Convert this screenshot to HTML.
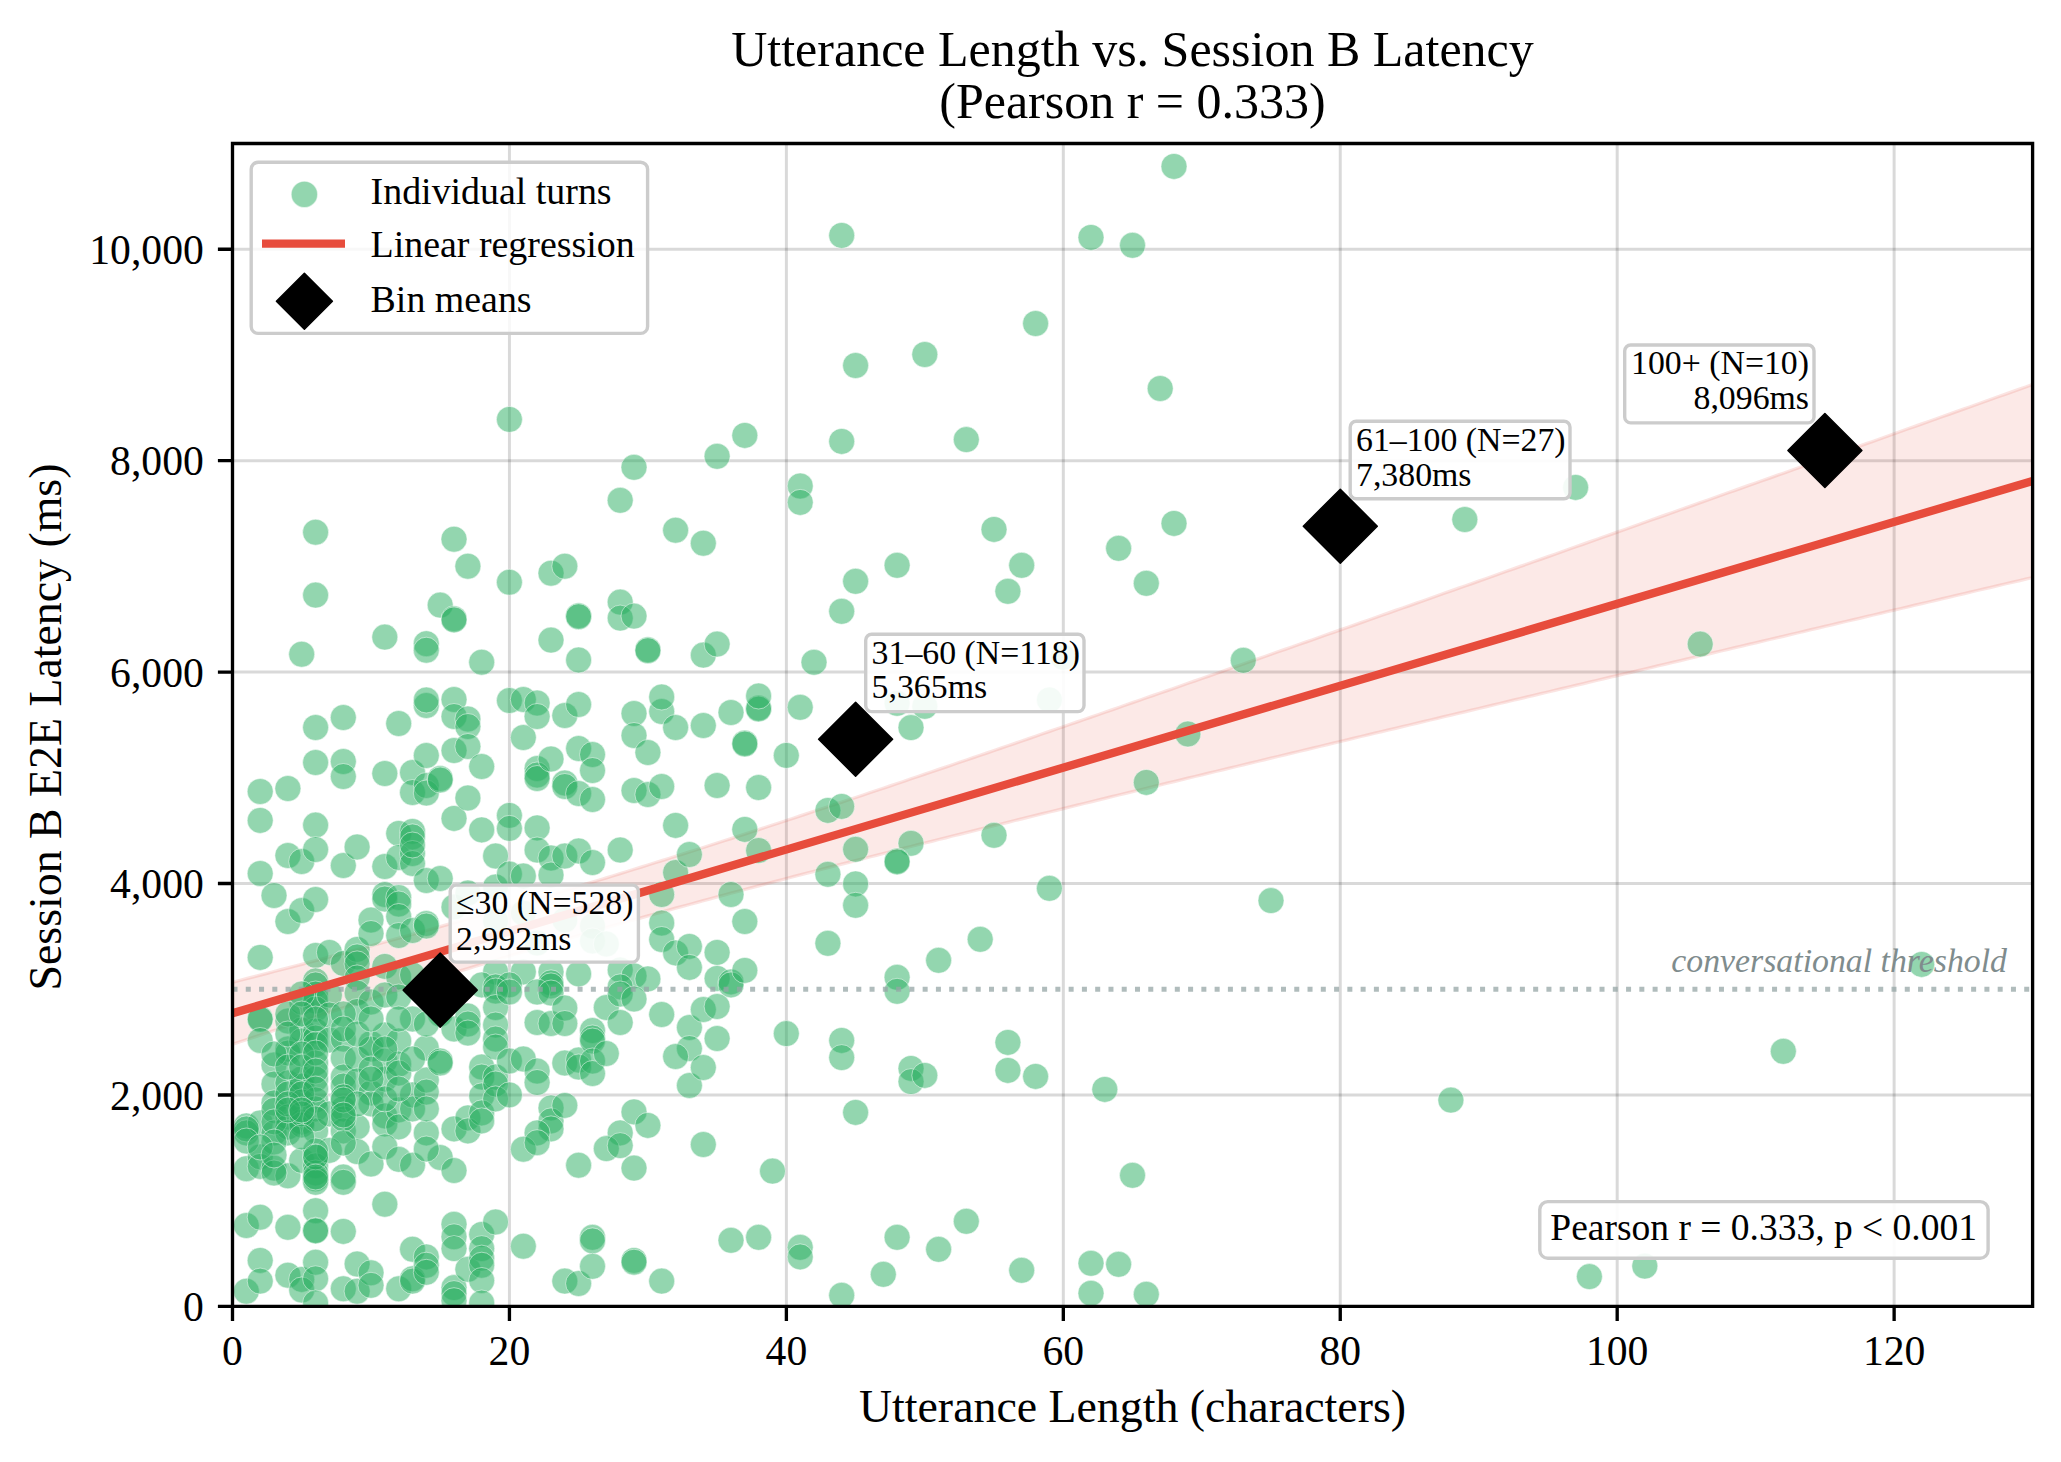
<!DOCTYPE html><html><head><meta charset="utf-8"><style>html,body{margin:0;padding:0;background:#fff;overflow:hidden;}svg{display:block;}text{font-family:"Liberation Serif",serif;}</style></head><body>
<svg width="2061" height="1462" viewBox="0 0 2061 1462">
<rect x="0" y="0" width="2061" height="1462" fill="#fff"/>
<defs><clipPath id="ax"><rect x="232.5" y="143.5" width="1800.1" height="1162.9"/></clipPath></defs>
<path d="M232.50 143.5V1306.4" stroke="#000" stroke-opacity="0.15" stroke-width="3" fill="none"/>
<path d="M509.44 143.5V1306.4" stroke="#000" stroke-opacity="0.15" stroke-width="3" fill="none"/>
<path d="M786.38 143.5V1306.4" stroke="#000" stroke-opacity="0.15" stroke-width="3" fill="none"/>
<path d="M1063.32 143.5V1306.4" stroke="#000" stroke-opacity="0.15" stroke-width="3" fill="none"/>
<path d="M1340.25 143.5V1306.4" stroke="#000" stroke-opacity="0.15" stroke-width="3" fill="none"/>
<path d="M1617.19 143.5V1306.4" stroke="#000" stroke-opacity="0.15" stroke-width="3" fill="none"/>
<path d="M1894.13 143.5V1306.4" stroke="#000" stroke-opacity="0.15" stroke-width="3" fill="none"/>
<path d="M232.5 1306.40H2032.6" stroke="#000" stroke-opacity="0.15" stroke-width="3" fill="none"/>
<path d="M232.5 1094.96H2032.6" stroke="#000" stroke-opacity="0.15" stroke-width="3" fill="none"/>
<path d="M232.5 883.53H2032.6" stroke="#000" stroke-opacity="0.15" stroke-width="3" fill="none"/>
<path d="M232.5 672.09H2032.6" stroke="#000" stroke-opacity="0.15" stroke-width="3" fill="none"/>
<path d="M232.5 460.65H2032.6" stroke="#000" stroke-opacity="0.15" stroke-width="3" fill="none"/>
<path d="M232.5 249.22H2032.6" stroke="#000" stroke-opacity="0.15" stroke-width="3" fill="none"/>
<g clip-path="url(#ax)">
<path d="M232.5 982.3 L239.4 980.5 L246.3 978.7 L253.3 976.9 L260.2 975.1 L267.1 973.3 L274.0 971.5 L281.0 969.7 L287.9 967.9 L294.8 966.1 L301.7 964.3 L308.7 962.4 L315.6 960.6 L322.5 958.8 L329.4 956.9 L336.4 955.1 L343.3 953.2 L350.2 951.4 L357.1 949.5 L364.0 947.6 L371.0 945.8 L377.9 943.9 L384.8 942.0 L391.7 940.1 L398.7 938.2 L405.6 936.3 L412.5 934.4 L419.4 932.4 L426.4 930.5 L433.3 928.6 L440.2 926.6 L447.1 924.7 L454.1 922.7 L461.0 920.8 L467.9 918.8 L474.8 916.8 L481.7 914.9 L488.7 912.9 L495.6 910.9 L502.5 908.9 L509.4 906.9 L516.4 904.8 L523.3 902.8 L530.2 900.8 L537.1 898.7 L544.1 896.7 L551.0 894.6 L557.9 892.5 L564.8 890.5 L571.7 888.4 L578.7 886.3 L585.6 884.2 L592.5 882.1 L599.4 880.0 L606.4 877.9 L613.3 875.7 L620.2 873.6 L627.1 871.5 L634.1 869.3 L641.0 867.2 L647.9 865.0 L654.8 862.8 L661.8 860.7 L668.7 858.5 L675.6 856.3 L682.5 854.1 L689.4 851.9 L696.4 849.7 L703.3 847.5 L710.2 845.3 L717.1 843.0 L724.1 840.8 L731.0 838.6 L737.9 836.3 L744.8 834.1 L751.8 831.8 L758.7 829.6 L765.6 827.3 L772.5 825.0 L779.5 822.8 L786.4 820.5 L793.3 818.2 L800.2 815.9 L807.1 813.6 L814.1 811.3 L821.0 809.0 L827.9 806.7 L834.8 804.4 L841.8 802.1 L848.7 799.8 L855.6 797.5 L862.5 795.2 L869.5 792.8 L876.4 790.5 L883.3 788.2 L890.2 785.9 L897.2 783.5 L904.1 781.2 L911.0 778.8 L917.9 776.5 L924.8 774.1 L931.8 771.8 L938.7 769.4 L945.6 767.1 L952.5 764.7 L959.5 762.3 L966.4 760.0 L973.3 757.6 L980.2 755.2 L987.2 752.9 L994.1 750.5 L1001.0 748.1 L1007.9 745.7 L1014.9 743.4 L1021.8 741.0 L1028.7 738.6 L1035.6 736.2 L1042.5 733.8 L1049.5 731.4 L1056.4 729.0 L1063.3 726.7 L1070.2 724.3 L1077.2 721.9 L1084.1 719.5 L1091.0 717.1 L1097.9 714.7 L1104.9 712.3 L1111.8 709.9 L1118.7 707.5 L1125.6 705.0 L1132.5 702.6 L1139.5 700.2 L1146.4 697.8 L1153.3 695.4 L1160.2 693.0 L1167.2 690.6 L1174.1 688.2 L1181.0 685.8 L1187.9 683.3 L1194.9 680.9 L1201.8 678.5 L1208.7 676.1 L1215.6 673.7 L1222.6 671.2 L1229.5 668.8 L1236.4 666.4 L1243.3 664.0 L1250.2 661.5 L1257.2 659.1 L1264.1 656.7 L1271.0 654.3 L1277.9 651.8 L1284.9 649.4 L1291.8 647.0 L1298.7 644.5 L1305.6 642.1 L1312.6 639.7 L1319.5 637.2 L1326.4 634.8 L1333.3 632.4 L1340.3 629.9 L1347.2 627.5 L1354.1 625.1 L1361.0 622.6 L1367.9 620.2 L1374.9 617.8 L1381.8 615.3 L1388.7 612.9 L1395.6 610.4 L1402.6 608.0 L1409.5 605.6 L1416.4 603.1 L1423.3 600.7 L1430.3 598.2 L1437.2 595.8 L1444.1 593.3 L1451.0 590.9 L1458.0 588.4 L1464.9 586.0 L1471.8 583.6 L1478.7 581.1 L1485.6 578.7 L1492.6 576.2 L1499.5 573.8 L1506.4 571.3 L1513.3 568.9 L1520.3 566.4 L1527.2 564.0 L1534.1 561.5 L1541.0 559.1 L1548.0 556.6 L1554.9 554.2 L1561.8 551.7 L1568.7 549.3 L1575.7 546.8 L1582.6 544.4 L1589.5 541.9 L1596.4 539.5 L1603.3 537.0 L1610.3 534.6 L1617.2 532.1 L1624.1 529.7 L1631.0 527.2 L1638.0 524.7 L1644.9 522.3 L1651.8 519.8 L1658.7 517.4 L1665.7 514.9 L1672.6 512.5 L1679.5 510.0 L1686.4 507.6 L1693.4 505.1 L1700.3 502.6 L1707.2 500.2 L1714.1 497.7 L1721.0 495.3 L1728.0 492.8 L1734.9 490.4 L1741.8 487.9 L1748.7 485.4 L1755.7 483.0 L1762.6 480.5 L1769.5 478.1 L1776.4 475.6 L1783.4 473.2 L1790.3 470.7 L1797.2 468.2 L1804.1 465.8 L1811.0 463.3 L1818.0 460.9 L1824.9 458.4 L1831.8 455.9 L1838.7 453.5 L1845.7 451.0 L1852.6 448.5 L1859.5 446.1 L1866.4 443.6 L1873.4 441.2 L1880.3 438.7 L1887.2 436.2 L1894.1 433.8 L1901.1 431.3 L1908.0 428.8 L1914.9 426.4 L1921.8 423.9 L1928.7 421.5 L1935.7 419.0 L1942.6 416.5 L1949.5 414.1 L1956.4 411.6 L1963.4 409.1 L1970.3 406.7 L1977.2 404.2 L1984.1 401.8 L1991.1 399.3 L1998.0 396.8 L2004.9 394.4 L2011.8 391.9 L2018.8 389.4 L2025.7 387.0 L2032.6 384.5 L2032.6 577.5 L2025.7 579.1 L2018.8 580.8 L2011.8 582.4 L2004.9 584.0 L1998.0 585.7 L1991.1 587.3 L1984.1 588.9 L1977.2 590.5 L1970.3 592.2 L1963.4 593.8 L1956.4 595.4 L1949.5 597.1 L1942.6 598.7 L1935.7 600.3 L1928.7 602.0 L1921.8 603.6 L1914.9 605.2 L1908.0 606.9 L1901.1 608.5 L1894.1 610.1 L1887.2 611.7 L1880.3 613.4 L1873.4 615.0 L1866.4 616.6 L1859.5 618.3 L1852.6 619.9 L1845.7 621.5 L1838.7 623.2 L1831.8 624.8 L1824.9 626.4 L1818.0 628.1 L1811.0 629.7 L1804.1 631.4 L1797.2 633.0 L1790.3 634.6 L1783.4 636.3 L1776.4 637.9 L1769.5 639.5 L1762.6 641.2 L1755.7 642.8 L1748.7 644.4 L1741.8 646.1 L1734.9 647.7 L1728.0 649.3 L1721.0 651.0 L1714.1 652.6 L1707.2 654.3 L1700.3 655.9 L1693.4 657.5 L1686.4 659.2 L1679.5 660.8 L1672.6 662.4 L1665.7 664.1 L1658.7 665.7 L1651.8 667.4 L1644.9 669.0 L1638.0 670.6 L1631.0 672.3 L1624.1 673.9 L1617.2 675.6 L1610.3 677.2 L1603.3 678.8 L1596.4 680.5 L1589.5 682.1 L1582.6 683.8 L1575.7 685.4 L1568.7 687.1 L1561.8 688.7 L1554.9 690.3 L1548.0 692.0 L1541.0 693.6 L1534.1 695.3 L1527.2 696.9 L1520.3 698.6 L1513.3 700.2 L1506.4 701.9 L1499.5 703.5 L1492.6 705.2 L1485.6 706.8 L1478.7 708.5 L1471.8 710.1 L1464.9 711.8 L1458.0 713.4 L1451.0 715.1 L1444.1 716.7 L1437.2 718.4 L1430.3 720.0 L1423.3 721.7 L1416.4 723.3 L1409.5 725.0 L1402.6 726.6 L1395.6 728.3 L1388.7 729.9 L1381.8 731.6 L1374.9 733.2 L1367.9 734.9 L1361.0 736.5 L1354.1 738.2 L1347.2 739.9 L1340.3 741.5 L1333.3 743.2 L1326.4 744.8 L1319.5 746.5 L1312.6 748.2 L1305.6 749.8 L1298.7 751.5 L1291.8 753.2 L1284.9 754.8 L1277.9 756.5 L1271.0 758.1 L1264.1 759.8 L1257.2 761.5 L1250.2 763.2 L1243.3 764.8 L1236.4 766.5 L1229.5 768.2 L1222.6 769.8 L1215.6 771.5 L1208.7 773.2 L1201.8 774.9 L1194.9 776.5 L1187.9 778.2 L1181.0 779.9 L1174.1 781.6 L1167.2 783.2 L1160.2 784.9 L1153.3 786.6 L1146.4 788.3 L1139.5 790.0 L1132.5 791.7 L1125.6 793.3 L1118.7 795.0 L1111.8 796.7 L1104.9 798.4 L1097.9 800.1 L1091.0 801.8 L1084.1 803.5 L1077.2 805.2 L1070.2 806.9 L1063.3 808.6 L1056.4 810.3 L1049.5 812.0 L1042.5 813.7 L1035.6 815.4 L1028.7 817.1 L1021.8 818.8 L1014.9 820.5 L1007.9 822.3 L1001.0 824.0 L994.1 825.7 L987.2 827.4 L980.2 829.1 L973.3 830.9 L966.4 832.6 L959.5 834.3 L952.5 836.0 L945.6 837.8 L938.7 839.5 L931.8 841.3 L924.8 843.0 L917.9 844.7 L911.0 846.5 L904.1 848.2 L897.2 850.0 L890.2 851.8 L883.3 853.5 L876.4 855.3 L869.5 857.0 L862.5 858.8 L855.6 860.6 L848.7 862.4 L841.8 864.1 L834.8 865.9 L827.9 867.7 L821.0 869.5 L814.1 871.3 L807.1 873.1 L800.2 874.9 L793.3 876.7 L786.4 878.5 L779.5 880.4 L772.5 882.2 L765.6 884.0 L758.7 885.8 L751.8 887.7 L744.8 889.5 L737.9 891.4 L731.0 893.2 L724.1 895.1 L717.1 896.9 L710.2 898.8 L703.3 900.7 L696.4 902.6 L689.4 904.5 L682.5 906.3 L675.6 908.2 L668.7 910.2 L661.8 912.1 L654.8 914.0 L647.9 915.9 L641.0 917.8 L634.1 919.8 L627.1 921.7 L620.2 923.7 L613.3 925.6 L606.4 927.6 L599.4 929.6 L592.5 931.6 L585.6 933.6 L578.7 935.6 L571.7 937.6 L564.8 939.6 L557.9 941.6 L551.0 943.6 L544.1 945.7 L537.1 947.7 L530.2 949.8 L523.3 951.8 L516.4 953.9 L509.4 956.0 L502.5 958.0 L495.6 960.1 L488.7 962.2 L481.7 964.3 L474.8 966.4 L467.9 968.6 L461.0 970.7 L454.1 972.8 L447.1 975.0 L440.2 977.1 L433.3 979.3 L426.4 981.4 L419.4 983.6 L412.5 985.8 L405.6 988.0 L398.7 990.1 L391.7 992.3 L384.8 994.5 L377.9 996.7 L371.0 999.0 L364.0 1001.2 L357.1 1003.4 L350.2 1005.6 L343.3 1007.9 L336.4 1010.1 L329.4 1012.4 L322.5 1014.6 L315.6 1016.9 L308.7 1019.1 L301.7 1021.4 L294.8 1023.7 L287.9 1025.9 L281.0 1028.2 L274.0 1030.5 L267.1 1032.8 L260.2 1035.1 L253.3 1037.4 L246.3 1039.7 L239.4 1042.0 L232.5 1044.3Z" fill="#e74c3c" fill-opacity="0.12" stroke="#e74c3c" stroke-opacity="0.15" stroke-width="3.3"/>
<g fill="#27ae60" fill-opacity="0.5" stroke="#fff" stroke-opacity="0.5" stroke-width="1"><circle cx="1174.0" cy="166.4" r="13"/><circle cx="841.7" cy="235.4" r="13"/><circle cx="1091.0" cy="237.4" r="13"/><circle cx="1132.5" cy="245.3" r="13"/><circle cx="1035.6" cy="323.5" r="13"/><circle cx="855.6" cy="365.5" r="13"/><circle cx="924.8" cy="354.5" r="13"/><circle cx="1160.2" cy="388.5" r="13"/><circle cx="1464.8" cy="519.5" r="13"/><circle cx="1575.6" cy="487.4" r="13"/><circle cx="1243.3" cy="660.3" r="13"/><circle cx="1700.2" cy="644.1" r="13"/><circle cx="1271.0" cy="900.6" r="13"/><circle cx="1450.9" cy="1100.1" r="13"/><circle cx="1589.4" cy="1276.6" r="13"/><circle cx="1921.7" cy="964.4" r="13"/><circle cx="1783.3" cy="1051.3" r="13"/><circle cx="1644.8" cy="1266.1" r="13"/><circle cx="841.7" cy="441.4" r="13"/><circle cx="966.3" cy="439.6" r="13"/><circle cx="800.2" cy="486.0" r="13"/><circle cx="800.2" cy="502.4" r="13"/><circle cx="994.0" cy="529.4" r="13"/><circle cx="1174.0" cy="523.4" r="13"/><circle cx="1118.6" cy="548.3" r="13"/><circle cx="897.1" cy="565.3" r="13"/><circle cx="855.6" cy="581.3" r="13"/><circle cx="1021.7" cy="565.3" r="13"/><circle cx="1007.9" cy="591.3" r="13"/><circle cx="1146.3" cy="583.3" r="13"/><circle cx="841.7" cy="611.3" r="13"/><circle cx="814.0" cy="662.3" r="13"/><circle cx="800.2" cy="707.3" r="13"/><circle cx="1063.3" cy="657.3" r="13"/><circle cx="897.1" cy="703.3" r="13"/><circle cx="924.8" cy="706.3" r="13"/><circle cx="1049.4" cy="699.9" r="13"/><circle cx="786.3" cy="755.4" r="13"/><circle cx="911.0" cy="727.6" r="13"/><circle cx="1187.9" cy="734.0" r="13"/><circle cx="1146.3" cy="782.4" r="13"/><circle cx="827.9" cy="810.4" r="13"/><circle cx="841.7" cy="806.4" r="13"/><circle cx="855.6" cy="849.3" r="13"/><circle cx="911.0" cy="843.3" r="13"/><circle cx="897.1" cy="860.9" r="13"/><circle cx="897.1" cy="861.9" r="13"/><circle cx="994.0" cy="835.3" r="13"/><circle cx="827.9" cy="874.3" r="13"/><circle cx="855.6" cy="883.9" r="13"/><circle cx="855.6" cy="905.3" r="13"/><circle cx="1049.4" cy="888.3" r="13"/><circle cx="827.9" cy="943.3" r="13"/><circle cx="980.2" cy="939.3" r="13"/><circle cx="938.6" cy="960.3" r="13"/><circle cx="897.1" cy="977.3" r="13"/><circle cx="897.1" cy="991.3" r="13"/><circle cx="786.3" cy="1033.6" r="13"/><circle cx="841.7" cy="1040.4" r="13"/><circle cx="841.7" cy="1057.6" r="13"/><circle cx="911.0" cy="1068.4" r="13"/><circle cx="911.0" cy="1081.6" r="13"/><circle cx="924.8" cy="1075.4" r="13"/><circle cx="1007.9" cy="1042.4" r="13"/><circle cx="1007.9" cy="1070.4" r="13"/><circle cx="1035.6" cy="1076.4" r="13"/><circle cx="1104.8" cy="1089.4" r="13"/><circle cx="855.6" cy="1112.4" r="13"/><circle cx="1132.5" cy="1175.3" r="13"/><circle cx="966.3" cy="1221.3" r="13"/><circle cx="897.1" cy="1237.3" r="13"/><circle cx="938.6" cy="1249.3" r="13"/><circle cx="800.2" cy="1247.3" r="13"/><circle cx="800.2" cy="1256.9" r="13"/><circle cx="883.3" cy="1274.3" r="13"/><circle cx="1021.7" cy="1270.3" r="13"/><circle cx="1091.0" cy="1263.3" r="13"/><circle cx="1118.6" cy="1264.3" r="13"/><circle cx="841.7" cy="1295.3" r="13"/><circle cx="1091.0" cy="1293.3" r="13"/><circle cx="1146.3" cy="1294.3" r="13"/><circle cx="315.6" cy="532.2" r="13"/><circle cx="315.6" cy="595.1" r="13"/><circle cx="454.0" cy="539.2" r="13"/><circle cx="467.9" cy="566.2" r="13"/><circle cx="301.7" cy="654.2" r="13"/><circle cx="384.8" cy="637.1" r="13"/><circle cx="440.2" cy="605.1" r="13"/><circle cx="454.0" cy="618.7" r="13"/><circle cx="454.0" cy="619.9" r="13"/><circle cx="426.3" cy="643.7" r="13"/><circle cx="426.3" cy="650.2" r="13"/><circle cx="481.7" cy="662.2" r="13"/><circle cx="509.4" cy="419.4" r="13"/><circle cx="744.8" cy="435.4" r="13"/><circle cx="717.1" cy="456.3" r="13"/><circle cx="634.0" cy="467.3" r="13"/><circle cx="620.2" cy="500.3" r="13"/><circle cx="675.6" cy="530.2" r="13"/><circle cx="703.3" cy="543.2" r="13"/><circle cx="509.4" cy="582.2" r="13"/><circle cx="551.0" cy="573.2" r="13"/><circle cx="564.8" cy="566.2" r="13"/><circle cx="578.6" cy="615.7" r="13"/><circle cx="578.6" cy="616.7" r="13"/><circle cx="620.2" cy="602.1" r="13"/><circle cx="620.2" cy="618.1" r="13"/><circle cx="634.0" cy="616.1" r="13"/><circle cx="551.0" cy="640.1" r="13"/><circle cx="578.6" cy="660.0" r="13"/><circle cx="647.9" cy="649.7" r="13"/><circle cx="647.9" cy="650.7" r="13"/><circle cx="703.3" cy="655.1" r="13"/><circle cx="717.1" cy="644.1" r="13"/><circle cx="260.2" cy="791.5" r="13"/><circle cx="260.2" cy="820.4" r="13"/><circle cx="287.9" cy="788.5" r="13"/><circle cx="315.6" cy="727.5" r="13"/><circle cx="315.6" cy="762.5" r="13"/><circle cx="315.6" cy="825.1" r="13"/><circle cx="343.3" cy="717.5" r="13"/><circle cx="343.3" cy="761.5" r="13"/><circle cx="343.3" cy="776.5" r="13"/><circle cx="384.8" cy="773.5" r="13"/><circle cx="398.7" cy="723.5" r="13"/><circle cx="412.5" cy="772.5" r="13"/><circle cx="412.5" cy="792.5" r="13"/><circle cx="426.3" cy="755.5" r="13"/><circle cx="426.3" cy="785.5" r="13"/><circle cx="426.3" cy="793.0" r="13"/><circle cx="426.3" cy="705.5" r="13"/><circle cx="426.3" cy="700.0" r="13"/><circle cx="398.7" cy="833.4" r="13"/><circle cx="412.5" cy="831.4" r="13"/><circle cx="412.5" cy="836.9" r="13"/><circle cx="440.2" cy="778.5" r="13"/><circle cx="440.2" cy="780.0" r="13"/><circle cx="454.0" cy="699.5" r="13"/><circle cx="454.0" cy="716.5" r="13"/><circle cx="454.0" cy="750.5" r="13"/><circle cx="454.0" cy="818.4" r="13"/><circle cx="467.9" cy="719.0" r="13"/><circle cx="467.9" cy="726.5" r="13"/><circle cx="467.9" cy="746.5" r="13"/><circle cx="467.9" cy="798.0" r="13"/><circle cx="481.7" cy="766.5" r="13"/><circle cx="481.7" cy="829.9" r="13"/><circle cx="509.4" cy="700.5" r="13"/><circle cx="509.4" cy="815.4" r="13"/><circle cx="509.4" cy="828.4" r="13"/><circle cx="523.3" cy="737.5" r="13"/><circle cx="523.3" cy="699.5" r="13"/><circle cx="537.1" cy="703.0" r="13"/><circle cx="537.1" cy="716.5" r="13"/><circle cx="537.1" cy="768.5" r="13"/><circle cx="537.1" cy="775.0" r="13"/><circle cx="537.1" cy="778.5" r="13"/><circle cx="537.1" cy="827.9" r="13"/><circle cx="551.0" cy="759.0" r="13"/><circle cx="564.8" cy="715.5" r="13"/><circle cx="564.8" cy="783.0" r="13"/><circle cx="564.8" cy="786.5" r="13"/><circle cx="578.6" cy="704.5" r="13"/><circle cx="578.6" cy="748.5" r="13"/><circle cx="578.6" cy="793.5" r="13"/><circle cx="592.5" cy="754.5" r="13"/><circle cx="592.5" cy="770.5" r="13"/><circle cx="592.5" cy="799.5" r="13"/><circle cx="634.0" cy="713.5" r="13"/><circle cx="634.0" cy="735.5" r="13"/><circle cx="634.0" cy="790.5" r="13"/><circle cx="647.9" cy="752.5" r="13"/><circle cx="647.9" cy="794.5" r="13"/><circle cx="661.7" cy="711.5" r="13"/><circle cx="661.7" cy="697.0" r="13"/><circle cx="661.7" cy="786.5" r="13"/><circle cx="675.6" cy="727.5" r="13"/><circle cx="675.6" cy="825.4" r="13"/><circle cx="703.3" cy="725.5" r="13"/><circle cx="717.1" cy="785.5" r="13"/><circle cx="731.0" cy="712.5" r="13"/><circle cx="744.8" cy="743.0" r="13"/><circle cx="744.8" cy="744.0" r="13"/><circle cx="744.8" cy="829.4" r="13"/><circle cx="758.6" cy="708.0" r="13"/><circle cx="758.6" cy="709.0" r="13"/><circle cx="758.6" cy="696.0" r="13"/><circle cx="758.6" cy="787.5" r="13"/><circle cx="260.2" cy="873.5" r="13"/><circle cx="260.2" cy="957.4" r="13"/><circle cx="274.0" cy="895.5" r="13"/><circle cx="287.9" cy="855.5" r="13"/><circle cx="287.9" cy="921.5" r="13"/><circle cx="301.7" cy="861.5" r="13"/><circle cx="301.7" cy="910.5" r="13"/><circle cx="315.6" cy="849.5" r="13"/><circle cx="315.6" cy="899.5" r="13"/><circle cx="315.6" cy="955.4" r="13"/><circle cx="315.6" cy="980.9" r="13"/><circle cx="315.6" cy="984.9" r="13"/><circle cx="329.4" cy="952.4" r="13"/><circle cx="343.3" cy="865.5" r="13"/><circle cx="343.3" cy="963.4" r="13"/><circle cx="357.1" cy="847.0" r="13"/><circle cx="357.1" cy="949.4" r="13"/><circle cx="357.1" cy="956.9" r="13"/><circle cx="357.1" cy="963.9" r="13"/><circle cx="357.1" cy="977.9" r="13"/><circle cx="371.0" cy="920.0" r="13"/><circle cx="371.0" cy="933.5" r="13"/><circle cx="384.8" cy="866.5" r="13"/><circle cx="384.8" cy="894.5" r="13"/><circle cx="384.8" cy="899.0" r="13"/><circle cx="384.8" cy="966.4" r="13"/><circle cx="398.7" cy="857.5" r="13"/><circle cx="398.7" cy="897.5" r="13"/><circle cx="398.7" cy="904.0" r="13"/><circle cx="398.7" cy="916.5" r="13"/><circle cx="398.7" cy="935.5" r="13"/><circle cx="398.7" cy="976.9" r="13"/><circle cx="412.5" cy="853.5" r="13"/><circle cx="412.5" cy="863.5" r="13"/><circle cx="412.5" cy="845.0" r="13"/><circle cx="412.5" cy="930.5" r="13"/><circle cx="412.5" cy="974.9" r="13"/><circle cx="426.3" cy="880.5" r="13"/><circle cx="426.3" cy="923.5" r="13"/><circle cx="426.3" cy="926.0" r="13"/><circle cx="440.2" cy="878.5" r="13"/><circle cx="454.0" cy="907.0" r="13"/><circle cx="467.9" cy="893.0" r="13"/><circle cx="495.6" cy="856.0" r="13"/><circle cx="495.6" cy="887.0" r="13"/><circle cx="495.6" cy="921.0" r="13"/><circle cx="509.4" cy="874.0" r="13"/><circle cx="523.3" cy="876.0" r="13"/><circle cx="523.3" cy="913.0" r="13"/><circle cx="537.1" cy="850.0" r="13"/><circle cx="537.1" cy="943.0" r="13"/><circle cx="551.0" cy="858.0" r="13"/><circle cx="551.0" cy="875.0" r="13"/><circle cx="564.8" cy="856.0" r="13"/><circle cx="564.8" cy="920.0" r="13"/><circle cx="578.6" cy="851.0" r="13"/><circle cx="592.5" cy="862.5" r="13"/><circle cx="592.5" cy="926.0" r="13"/><circle cx="592.5" cy="941.0" r="13"/><circle cx="606.3" cy="944.0" r="13"/><circle cx="620.2" cy="850.0" r="13"/><circle cx="495.6" cy="971.9" r="13"/><circle cx="481.7" cy="984.9" r="13"/><circle cx="523.3" cy="971.9" r="13"/><circle cx="551.0" cy="971.9" r="13"/><circle cx="578.6" cy="973.9" r="13"/><circle cx="620.2" cy="969.9" r="13"/><circle cx="634.0" cy="975.9" r="13"/><circle cx="551.0" cy="982.9" r="13"/><circle cx="551.0" cy="985.9" r="13"/><circle cx="495.6" cy="986.9" r="13"/><circle cx="509.4" cy="984.9" r="13"/><circle cx="620.2" cy="986.9" r="13"/><circle cx="647.9" cy="978.9" r="13"/><circle cx="661.7" cy="894.5" r="13"/><circle cx="661.7" cy="923.0" r="13"/><circle cx="661.7" cy="939.5" r="13"/><circle cx="675.6" cy="872.5" r="13"/><circle cx="675.6" cy="952.9" r="13"/><circle cx="689.4" cy="854.5" r="13"/><circle cx="689.4" cy="946.4" r="13"/><circle cx="689.4" cy="967.4" r="13"/><circle cx="717.1" cy="952.4" r="13"/><circle cx="717.1" cy="978.4" r="13"/><circle cx="731.0" cy="894.5" r="13"/><circle cx="731.0" cy="981.9" r="13"/><circle cx="731.0" cy="984.9" r="13"/><circle cx="744.8" cy="921.5" r="13"/><circle cx="744.8" cy="970.4" r="13"/><circle cx="758.6" cy="850.5" r="13"/><circle cx="246.3" cy="1125.9" r="13"/><circle cx="246.3" cy="1132.9" r="13"/><circle cx="260.2" cy="1018.5" r="13"/><circle cx="260.2" cy="1019.5" r="13"/><circle cx="260.2" cy="1040.5" r="13"/><circle cx="260.2" cy="1122.9" r="13"/><circle cx="274.0" cy="1065.0" r="13"/><circle cx="274.0" cy="1084.0" r="13"/><circle cx="274.0" cy="1102.9" r="13"/><circle cx="274.0" cy="1110.4" r="13"/><circle cx="274.0" cy="1132.9" r="13"/><circle cx="287.9" cy="1021.0" r="13"/><circle cx="287.9" cy="1049.0" r="13"/><circle cx="287.9" cy="1053.0" r="13"/><circle cx="287.9" cy="1083.0" r="13"/><circle cx="287.9" cy="1093.9" r="13"/><circle cx="287.9" cy="1116.9" r="13"/><circle cx="287.9" cy="1126.9" r="13"/><circle cx="301.7" cy="1002.0" r="13"/><circle cx="301.7" cy="1030.0" r="13"/><circle cx="301.7" cy="1041.0" r="13"/><circle cx="301.7" cy="1079.0" r="13"/><circle cx="301.7" cy="1086.0" r="13"/><circle cx="301.7" cy="1101.9" r="13"/><circle cx="301.7" cy="1121.9" r="13"/><circle cx="301.7" cy="1124.9" r="13"/><circle cx="315.6" cy="994.0" r="13"/><circle cx="315.6" cy="1001.0" r="13"/><circle cx="315.6" cy="1009.0" r="13"/><circle cx="315.6" cy="1031.0" r="13"/><circle cx="315.6" cy="1038.0" r="13"/><circle cx="315.6" cy="1044.5" r="13"/><circle cx="315.6" cy="1063.0" r="13"/><circle cx="315.6" cy="1079.0" r="13"/><circle cx="315.6" cy="1099.9" r="13"/><circle cx="315.6" cy="1108.9" r="13"/><circle cx="315.6" cy="1130.9" r="13"/><circle cx="329.4" cy="995.0" r="13"/><circle cx="329.4" cy="1015.0" r="13"/><circle cx="329.4" cy="1040.0" r="13"/><circle cx="329.4" cy="1113.9" r="13"/><circle cx="343.3" cy="1039.0" r="13"/><circle cx="343.3" cy="1058.0" r="13"/><circle cx="343.3" cy="1077.0" r="13"/><circle cx="343.3" cy="1086.0" r="13"/><circle cx="343.3" cy="1108.9" r="13"/><circle cx="343.3" cy="1130.9" r="13"/><circle cx="357.1" cy="993.0" r="13"/><circle cx="357.1" cy="1011.5" r="13"/><circle cx="357.1" cy="1059.0" r="13"/><circle cx="357.1" cy="1081.0" r="13"/><circle cx="357.1" cy="1126.9" r="13"/><circle cx="371.0" cy="1002.0" r="13"/><circle cx="371.0" cy="1043.5" r="13"/><circle cx="371.0" cy="1049.0" r="13"/><circle cx="371.0" cy="1092.9" r="13"/><circle cx="371.0" cy="1103.9" r="13"/><circle cx="384.8" cy="995.0" r="13"/><circle cx="384.8" cy="1035.0" r="13"/><circle cx="384.8" cy="1061.0" r="13"/><circle cx="384.8" cy="1079.0" r="13"/><circle cx="384.8" cy="1115.9" r="13"/><circle cx="384.8" cy="1123.9" r="13"/><circle cx="398.7" cy="997.0" r="13"/><circle cx="398.7" cy="1041.0" r="13"/><circle cx="398.7" cy="1064.0" r="13"/><circle cx="398.7" cy="1073.0" r="13"/><circle cx="398.7" cy="1109.9" r="13"/><circle cx="398.7" cy="1126.9" r="13"/><circle cx="412.5" cy="1019.0" r="13"/><circle cx="412.5" cy="1094.9" r="13"/><circle cx="412.5" cy="1108.9" r="13"/><circle cx="426.3" cy="1048.0" r="13"/><circle cx="426.3" cy="1080.0" r="13"/><circle cx="426.3" cy="1092.0" r="13"/><circle cx="426.3" cy="1132.9" r="13"/><circle cx="440.2" cy="1061.0" r="13"/><circle cx="440.2" cy="1063.0" r="13"/><circle cx="440.2" cy="1014.0" r="13"/><circle cx="454.0" cy="1029.0" r="13"/><circle cx="454.0" cy="1128.9" r="13"/><circle cx="467.9" cy="1016.0" r="13"/><circle cx="467.9" cy="1024.0" r="13"/><circle cx="467.9" cy="1033.0" r="13"/><circle cx="467.9" cy="1117.9" r="13"/><circle cx="467.9" cy="1130.9" r="13"/><circle cx="481.7" cy="1067.0" r="13"/><circle cx="481.7" cy="1077.0" r="13"/><circle cx="481.7" cy="1095.9" r="13"/><circle cx="481.7" cy="1112.9" r="13"/><circle cx="481.7" cy="1120.9" r="13"/><circle cx="495.6" cy="991.0" r="13"/><circle cx="495.6" cy="1007.5" r="13"/><circle cx="495.6" cy="1025.0" r="13"/><circle cx="495.6" cy="1039.0" r="13"/><circle cx="495.6" cy="1047.0" r="13"/><circle cx="495.6" cy="1077.0" r="13"/><circle cx="495.6" cy="1084.0" r="13"/><circle cx="495.6" cy="1098.9" r="13"/><circle cx="509.4" cy="1061.0" r="13"/><circle cx="509.4" cy="1094.9" r="13"/><circle cx="509.4" cy="992.0" r="13"/><circle cx="523.3" cy="1059.0" r="13"/><circle cx="537.1" cy="1022.5" r="13"/><circle cx="537.1" cy="1071.0" r="13"/><circle cx="537.1" cy="1082.5" r="13"/><circle cx="537.1" cy="992.0" r="13"/><circle cx="551.0" cy="993.0" r="13"/><circle cx="551.0" cy="1023.5" r="13"/><circle cx="551.0" cy="1107.9" r="13"/><circle cx="551.0" cy="1120.9" r="13"/><circle cx="551.0" cy="1128.9" r="13"/><circle cx="564.8" cy="1008.0" r="13"/><circle cx="564.8" cy="1023.5" r="13"/><circle cx="564.8" cy="1063.0" r="13"/><circle cx="564.8" cy="1105.4" r="13"/><circle cx="578.6" cy="1060.0" r="13"/><circle cx="578.6" cy="1067.0" r="13"/><circle cx="592.5" cy="1030.5" r="13"/><circle cx="592.5" cy="1038.0" r="13"/><circle cx="592.5" cy="1041.0" r="13"/><circle cx="592.5" cy="1061.0" r="13"/><circle cx="592.5" cy="1073.5" r="13"/><circle cx="606.3" cy="1007.5" r="13"/><circle cx="606.3" cy="1053.5" r="13"/><circle cx="620.2" cy="1022.5" r="13"/><circle cx="620.2" cy="994.0" r="13"/><circle cx="620.2" cy="1132.9" r="13"/><circle cx="634.0" cy="999.0" r="13"/><circle cx="634.0" cy="1111.9" r="13"/><circle cx="537.1" cy="1132.9" r="13"/><circle cx="661.7" cy="1014.5" r="13"/><circle cx="689.4" cy="1027.5" r="13"/><circle cx="689.4" cy="1048.5" r="13"/><circle cx="689.4" cy="1085.5" r="13"/><circle cx="675.6" cy="1056.5" r="13"/><circle cx="703.3" cy="1009.5" r="13"/><circle cx="703.3" cy="1067.5" r="13"/><circle cx="717.1" cy="1006.5" r="13"/><circle cx="717.1" cy="1038.5" r="13"/><circle cx="647.9" cy="1125.4" r="13"/><circle cx="246.3" cy="1168.7" r="13"/><circle cx="246.3" cy="1225.5" r="13"/><circle cx="246.3" cy="1291.2" r="13"/><circle cx="260.2" cy="1156.9" r="13"/><circle cx="260.2" cy="1166.4" r="13"/><circle cx="260.2" cy="1217.2" r="13"/><circle cx="260.2" cy="1260.4" r="13"/><circle cx="260.2" cy="1281.1" r="13"/><circle cx="274.0" cy="1168.1" r="13"/><circle cx="287.9" cy="1175.8" r="13"/><circle cx="287.9" cy="1227.3" r="13"/><circle cx="287.9" cy="1275.2" r="13"/><circle cx="301.7" cy="1160.4" r="13"/><circle cx="301.7" cy="1279.4" r="13"/><circle cx="301.7" cy="1290.0" r="13"/><circle cx="315.6" cy="1157.5" r="13"/><circle cx="315.6" cy="1165.8" r="13"/><circle cx="315.6" cy="1172.9" r="13"/><circle cx="315.6" cy="1178.8" r="13"/><circle cx="315.6" cy="1182.3" r="13"/><circle cx="315.6" cy="1210.7" r="13"/><circle cx="315.6" cy="1230.2" r="13"/><circle cx="315.6" cy="1262.2" r="13"/><circle cx="315.6" cy="1278.8" r="13"/><circle cx="315.6" cy="1303.0" r="13"/><circle cx="329.4" cy="1150.4" r="13"/><circle cx="343.3" cy="1177.0" r="13"/><circle cx="343.3" cy="1182.3" r="13"/><circle cx="343.3" cy="1231.4" r="13"/><circle cx="343.3" cy="1288.8" r="13"/><circle cx="357.1" cy="1151.6" r="13"/><circle cx="357.1" cy="1264.0" r="13"/><circle cx="357.1" cy="1291.2" r="13"/><circle cx="371.0" cy="1164.0" r="13"/><circle cx="371.0" cy="1272.8" r="13"/><circle cx="371.0" cy="1285.3" r="13"/><circle cx="384.8" cy="1146.8" r="13"/><circle cx="384.8" cy="1204.2" r="13"/><circle cx="398.7" cy="1288.8" r="13"/><circle cx="398.7" cy="1159.3" r="13"/><circle cx="412.5" cy="1165.2" r="13"/><circle cx="412.5" cy="1249.2" r="13"/><circle cx="412.5" cy="1278.8" r="13"/><circle cx="412.5" cy="1281.1" r="13"/><circle cx="426.3" cy="1256.9" r="13"/><circle cx="426.3" cy="1265.2" r="13"/><circle cx="426.3" cy="1272.3" r="13"/><circle cx="440.2" cy="1157.5" r="13"/><circle cx="454.0" cy="1170.5" r="13"/><circle cx="454.0" cy="1224.3" r="13"/><circle cx="454.0" cy="1236.8" r="13"/><circle cx="454.0" cy="1248.6" r="13"/><circle cx="454.0" cy="1287.6" r="13"/><circle cx="454.0" cy="1293.6" r="13"/><circle cx="454.0" cy="1300.7" r="13"/><circle cx="467.9" cy="1269.3" r="13"/><circle cx="481.7" cy="1234.4" r="13"/><circle cx="481.7" cy="1248.6" r="13"/><circle cx="481.7" cy="1258.1" r="13"/><circle cx="481.7" cy="1265.2" r="13"/><circle cx="481.7" cy="1280.5" r="13"/><circle cx="481.7" cy="1303.0" r="13"/><circle cx="495.6" cy="1222.0" r="13"/><circle cx="523.3" cy="1149.2" r="13"/><circle cx="523.3" cy="1246.2" r="13"/><circle cx="537.1" cy="1142.7" r="13"/><circle cx="564.8" cy="1281.1" r="13"/><circle cx="578.6" cy="1165.2" r="13"/><circle cx="578.6" cy="1283.5" r="13"/><circle cx="592.5" cy="1237.3" r="13"/><circle cx="592.5" cy="1240.9" r="13"/><circle cx="592.5" cy="1266.3" r="13"/><circle cx="606.3" cy="1148.6" r="13"/><circle cx="620.2" cy="1145.6" r="13"/><circle cx="634.0" cy="1168.1" r="13"/><circle cx="634.0" cy="1260.4" r="13"/><circle cx="634.0" cy="1262.2" r="13"/><circle cx="703.3" cy="1144.5" r="13"/><circle cx="772.5" cy="1171.1" r="13"/><circle cx="661.7" cy="1281.1" r="13"/><circle cx="731.0" cy="1240.3" r="13"/><circle cx="758.6" cy="1237.3" r="13"/><circle cx="246.3" cy="1128.9" r="13"/><circle cx="274.0" cy="1054.0" r="13"/><circle cx="274.0" cy="1121.9" r="13"/><circle cx="287.9" cy="1014.0" r="13"/><circle cx="287.9" cy="1034.0" r="13"/><circle cx="287.9" cy="1067.0" r="13"/><circle cx="287.9" cy="1103.9" r="13"/><circle cx="287.9" cy="1132.9" r="13"/><circle cx="301.7" cy="994.0" r="13"/><circle cx="301.7" cy="1014.0" r="13"/><circle cx="301.7" cy="1054.0" r="13"/><circle cx="301.7" cy="1067.0" r="13"/><circle cx="301.7" cy="1093.9" r="13"/><circle cx="301.7" cy="1113.9" r="13"/><circle cx="315.6" cy="1019.0" r="13"/><circle cx="315.6" cy="1053.0" r="13"/><circle cx="315.6" cy="1071.0" r="13"/><circle cx="315.6" cy="1089.0" r="13"/><circle cx="315.6" cy="1118.9" r="13"/><circle cx="343.3" cy="1014.0" r="13"/><circle cx="343.3" cy="1029.0" r="13"/><circle cx="343.3" cy="1096.9" r="13"/><circle cx="343.3" cy="1118.9" r="13"/><circle cx="357.1" cy="1034.0" r="13"/><circle cx="357.1" cy="1103.9" r="13"/><circle cx="371.0" cy="1019.0" r="13"/><circle cx="371.0" cy="1069.0" r="13"/><circle cx="371.0" cy="1079.0" r="13"/><circle cx="384.8" cy="1049.0" r="13"/><circle cx="384.8" cy="1098.9" r="13"/><circle cx="398.7" cy="1019.0" r="13"/><circle cx="398.7" cy="1089.0" r="13"/><circle cx="412.5" cy="1059.0" r="13"/><circle cx="426.3" cy="1024.0" r="13"/><circle cx="426.3" cy="1108.9" r="13"/><circle cx="246.3" cy="1141.0" r="13"/><circle cx="274.0" cy="1142.0" r="13"/><circle cx="274.0" cy="1173.0" r="13"/><circle cx="315.6" cy="1151.0" r="13"/><circle cx="343.3" cy="1143.0" r="13"/><circle cx="426.3" cy="1149.0" r="13"/><circle cx="287.9" cy="1110.0" r="13"/><circle cx="301.7" cy="1110.0" r="13"/><circle cx="301.7" cy="1137.0" r="13"/><circle cx="343.3" cy="1100.0" r="13"/><circle cx="343.3" cy="1115.0" r="13"/><circle cx="315.6" cy="1157.0" r="13"/><circle cx="315.6" cy="1177.0" r="13"/><circle cx="260.2" cy="1147.0" r="13"/><circle cx="274.0" cy="1155.0" r="13"/><circle cx="315.6" cy="1230.9" r="13"/></g>
<path d="M232.5 989.25H2032.6" stroke="#95a5a6" stroke-opacity="0.75" stroke-width="5" stroke-dasharray="5.01 8.262" fill="none"/>
<path d="M232.5 1013.30L2032.6 481.00" stroke="#e74c3c" stroke-width="8.3" fill="none"/>
<path d="M440.2 953.1L477.2 990.1L440.2 1027.1L403.2 990.1Z" fill="#000" stroke="#000" stroke-width="1.5" stroke-linejoin="round"/>
<path d="M855.6 702.2L892.6 739.2L855.6 776.2L818.6 739.2Z" fill="#000" stroke="#000" stroke-width="1.5" stroke-linejoin="round"/>
<path d="M1340.3 489.2L1377.3 526.2L1340.3 563.2L1303.3 526.2Z" fill="#000" stroke="#000" stroke-width="1.5" stroke-linejoin="round"/>
<path d="M1824.9 413.5L1861.9 450.5L1824.9 487.5L1787.9 450.5Z" fill="#000" stroke="#000" stroke-width="1.5" stroke-linejoin="round"/>
</g>
<rect x="450.2" y="885.1" width="188.2" height="77.0" rx="6" ry="6" fill="#fff" fill-opacity="0.9" stroke="#cccccc" stroke-width="3.4"/>
<text x="456.0" y="914.2" font-size="33.8">≤30 (N=528)</text><text x="456.0" y="949.5" font-size="33.8">2,992ms</text>
<rect x="865.7" y="634.3" width="218.29999999999995" height="77.30000000000007" rx="6" ry="6" fill="#fff" fill-opacity="0.9" stroke="#cccccc" stroke-width="3.4"/>
<text x="871.6" y="663.9" font-size="33.8">31–60 (N=118)</text><text x="871.6" y="698.4" font-size="33.8">5,365ms</text>
<rect x="1350.2" y="421.3" width="219.79999999999995" height="77.5" rx="6" ry="6" fill="#fff" fill-opacity="0.9" stroke="#cccccc" stroke-width="3.4"/>
<text x="1356.0" y="451.1" font-size="33.8">61–100 (N=27)</text><text x="1356.0" y="485.6" font-size="33.8">7,380ms</text>
<rect x="1624.7" y="345.0" width="189.29999999999995" height="77.89999999999998" rx="6" ry="6" fill="#fff" fill-opacity="0.9" stroke="#cccccc" stroke-width="3.4"/>
<text x="1809.0" y="374.4" font-size="33.8" text-anchor="end">100+ (N=10)</text><text x="1809.0" y="409.3" font-size="33.8" text-anchor="end">8,096ms</text>
<text x="2007" y="971.5" font-size="33.8" font-style="italic" fill="#7f8c8d" text-anchor="end">conversational threshold</text>
<rect x="1539.8" y="1201.6" width="448.29999999999995" height="56.600000000000136" rx="8" ry="8" fill="#fff" fill-opacity="0.9" stroke="#cccccc" stroke-width="3.4"/>
<text x="1550.3" y="1239.6" font-size="37.5">Pearson r = 0.333, p &lt; 0.001</text>
<rect x="251.2" y="162.2" width="396.40000000000003" height="171.2" rx="7" ry="7" fill="#fff" fill-opacity="0.8" stroke="#cccccc" stroke-width="3.4"/>
<circle cx="304.4" cy="194.4" r="13.2" fill="#27ae60" fill-opacity="0.5" stroke="#fff" stroke-opacity="0.5" stroke-width="1.2"/>
<path d="M262 243.7H345" stroke="#e74c3c" stroke-width="8.3"/>
<path d="M304.4 273.2L332.4 301.2L304.4 329.2L276.4 301.2Z" fill="#000" stroke="#000" stroke-width="1.5" stroke-linejoin="round"/>
<text x="370.6" y="204" font-size="37.9">Individual turns</text>
<text x="370.6" y="257" font-size="37.9">Linear regression</text>
<text x="370.6" y="312" font-size="37.9">Bin means</text>
<path d="M232.5 143.5H2032.6V1306.4H232.5Z" stroke="#000" stroke-width="3.33" fill="none" stroke-linejoin="miter"/>
<path d="M232.50 1306.4v14.6M509.44 1306.4v14.6M786.38 1306.4v14.6M1063.32 1306.4v14.6M1340.25 1306.4v14.6M1617.19 1306.4v14.6M1894.13 1306.4v14.6M232.5 1306.40h-14.6M232.5 1094.96h-14.6M232.5 883.53h-14.6M232.5 672.09h-14.6M232.5 460.65h-14.6M232.5 249.22h-14.6" stroke="#000" stroke-width="3.33" fill="none"/>
<text x="232.50" y="1364.5" font-size="41.67" text-anchor="middle">0</text>
<text x="509.44" y="1364.5" font-size="41.67" text-anchor="middle">20</text>
<text x="786.38" y="1364.5" font-size="41.67" text-anchor="middle">40</text>
<text x="1063.32" y="1364.5" font-size="41.67" text-anchor="middle">60</text>
<text x="1340.25" y="1364.5" font-size="41.67" text-anchor="middle">80</text>
<text x="1617.19" y="1364.5" font-size="41.67" text-anchor="middle">100</text>
<text x="1894.13" y="1364.5" font-size="41.67" text-anchor="middle">120</text>
<text x="203.8" y="1321.00" font-size="41.67" text-anchor="end">0</text>
<text x="203.8" y="1109.56" font-size="41.67" text-anchor="end">2,000</text>
<text x="203.8" y="898.13" font-size="41.67" text-anchor="end">4,000</text>
<text x="203.8" y="686.69" font-size="41.67" text-anchor="end">6,000</text>
<text x="203.8" y="475.25" font-size="41.67" text-anchor="end">8,000</text>
<text x="203.8" y="263.82" font-size="41.67" text-anchor="end">10,000</text>
<text x="1132.5" y="1421.9" font-size="45.83" text-anchor="middle">Utterance Length (characters)</text>
<text transform="translate(61.1 727) rotate(-90)" font-size="45.83" text-anchor="middle">Session B E2E Latency (ms)</text>
<text x="1132.5" y="66" font-size="50" text-anchor="middle">Utterance Length vs. Session B Latency</text>
<text x="1132.5" y="117.8" font-size="50" text-anchor="middle">(Pearson r = 0.333)</text>
</svg></body></html>
